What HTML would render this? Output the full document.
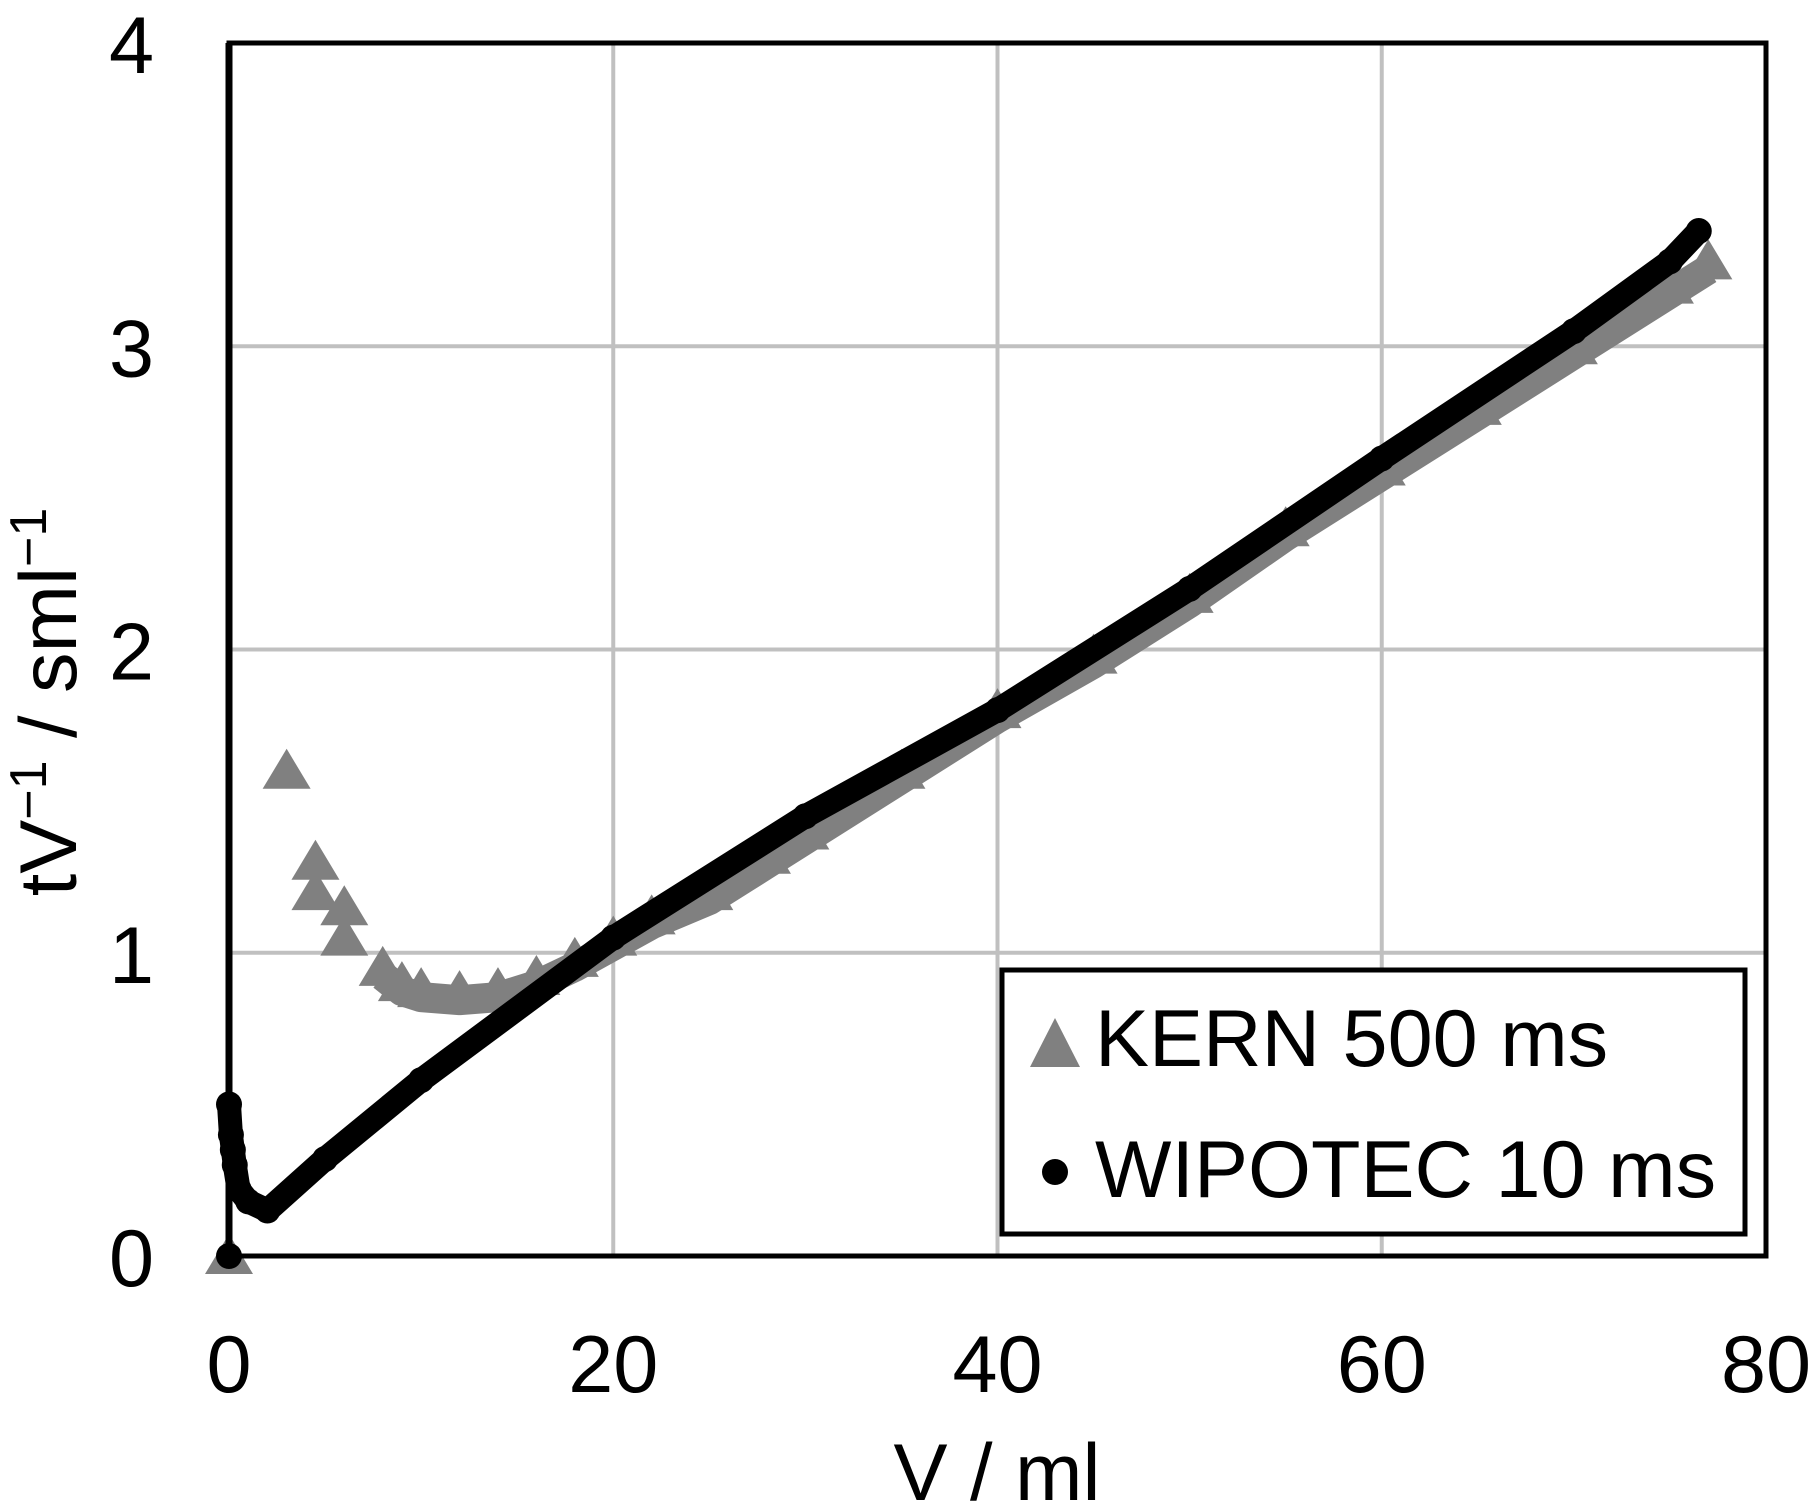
<!DOCTYPE html>
<html><head><meta charset="utf-8"><style>
body{margin:0;background:#fff}
svg{display:block;font-family:"Liberation Sans",Arial,sans-serif}
</style></head><body>
<svg id="chart" width="1820" height="1511" viewBox="0 0 1820 1511" xmlns="http://www.w3.org/2000/svg">
<g id="grid"></g>
<g id="series"></g>
<rect x="229" y="43" width="1537" height="1213" fill="none" stroke="#000" stroke-width="5"/>
<line x1="229" y1="43" x2="229" y2="1256" stroke="#000" stroke-width="7"/>
<g id="ticks" font-size="81" fill="#000"></g>
<text x="997" y="1500" font-size="81" text-anchor="middle">V / ml</text>
<text transform="translate(76,702) rotate(-90)" font-size="81" text-anchor="middle">tV<tspan font-size="52" dy="-30">−1</tspan><tspan dy="30"> / sml</tspan><tspan font-size="52" dy="-30">−1</tspan></text>
<g>
<rect x="1002" y="970" width="743" height="264" fill="#fff" stroke="#000" stroke-width="5"/>
<polygon points="1030,1067 1055,1018 1080,1067" fill="#808080"/>
<text x="1095" y="1066" font-size="81">KERN 500 ms</text>
<circle cx="1055" cy="1172" r="13" fill="#000"/>
<text x="1095" y="1197" font-size="81">WIPOTEC 10 ms</text>
</g>
</svg>
<script>
const xTicks=[0,20,40,60,80];
const yTicks=[0,1,2,3,4];
const kernX=[0,3,4.5,4.5,6,6,8,9,10,12,14,16,18,20,22,25,28,30,35,40,45,50,55,60,65,70,75,77];
const kernY=[0,1.6,1.3,1.2,1.15,1.05,0.95,0.9,0.88,0.87,0.88,0.92,0.98,1.05,1.12,1.2,1.32,1.4,1.6,1.8,1.98,2.18,2.4,2.6,2.8,3.0,3.2,3.28];
const wipX=[0,0,0.1,0.2,0.3,0.5,1,2,5,10,20,30,40,50,60,70,75,76.5];
const wipY=[0,0.5,0.4,0.35,0.3,0.22,0.18,0.15,0.32,0.58,1.05,1.45,1.8,2.2,2.63,3.05,3.28,3.38];
const NS="http://www.w3.org/2000/svg";
const X0=229,X1=1766,Y0=1256,Y1=43;
function sx(v){return X0+(v-0)/(80-0)*(X1-X0);}
function sy(v){return Y0-(v-0)/(4-0)*(Y0-Y1);}
function mk(t,a,p){const e=document.createElementNS(NS,t);for(const k in a)e.setAttribute(k,a[k]);p.appendChild(e);return e;}
const grid=document.getElementById('grid'),ticks=document.getElementById('ticks'),ser=document.getElementById('series');
xTicks.forEach(v=>{
 if(v>0&&v<80){const l=mk('line',{x1:sx(v),x2:sx(v),y1:Y1,y2:Y0,stroke:'#c0c0c0','stroke-width':4},grid);
 
 }
 const t=mk('text',{x:sx(v),y:1392,'text-anchor':'middle'},ticks);t.textContent=v;
 
 
});
yTicks.forEach(v=>{
 if(v>0&&v<4){const l=mk('line',{x1:X0,x2:X1,y1:sy(v),y2:sy(v),stroke:'#c0c0c0','stroke-width':4},grid);
 
 }
 const t=mk('text',{x:154,y:sy(v)+30,'text-anchor':'end'},ticks);t.textContent=v;
 
 
});
let kp=kernX.slice(6).map((x,i)=>sx(x)+','+(sy(kernY[i+6])+8)).join(' ');
const kl=mk('polyline',{points:kp,fill:'none',stroke:'#808080','stroke-width':30,'stroke-linejoin':'round'},ser);


kernX.forEach((x,i)=>{const cx=sx(x),cy=sy(kernY[i]);
 const p=mk('polygon',{points:(cx-24)+','+(cy+18)+' '+cx+','+(cy-22)+' '+(cx+24)+','+(cy+18),fill:'#808080'},ser);
 
 });
let wp=wipX.slice(1).map((x,i)=>sx(x)+','+sy(wipY[i+1])).join(' ');
const wl=mk('polyline',{points:wp,fill:'none',stroke:'#000','stroke-width':24,'stroke-linejoin':'round','stroke-linecap':'round'},ser);


wipX.forEach((x,i)=>{const c=mk('circle',{cx:sx(x),cy:sy(wipY[i]),r:13,fill:'#000'},ser);
 
 });
</script>
</body></html>
